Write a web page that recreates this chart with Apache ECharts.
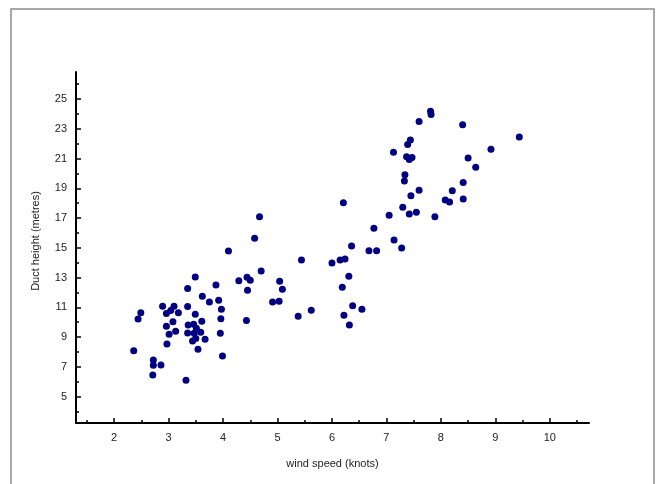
<!DOCTYPE html>
<html>
<head>
<meta charset="utf-8">
<script src="https://cdn.jsdelivr.net/npm/echarts@6/dist/echarts.min.js"></script>
<style>
  html, body { margin: 0; padding: 0; background: #fff; }
  #chart { width: 656px; height: 484px; }
</style>
</head>
<body>
<div id="chart"></div>
<script>
// Wind speed (knots) against evaporation duct height (metres), one entry per observation.
const windSpeed = [
  3.49, 3.35, 3.87, 3.62, 3.75, 3.92, 3.97, 3.96, 3.95, 3.99,
  2.49, 2.44, 2.89, 2.96, 3.04, 3.10, 3.18, 3.35, 3.08, 2.96,
  3.01, 3.13, 2.97, 3.49, 3.61, 3.36, 3.46, 3.51, 3.35, 3.47,
  3.59, 3.44, 3.50, 3.67, 3.54, 2.36, 2.72, 2.72, 2.86, 2.71,
  3.32,
  4.10, 4.29, 4.44, 4.50, 4.45, 4.43, 4.58, 4.67, 4.70, 4.91,
  5.03, 5.04, 5.09, 5.38, 5.44, 5.62,
  6.00, 6.15, 6.24, 6.21, 6.19, 6.31, 6.36, 6.22, 6.32, 6.38,
  6.55, 6.68, 6.82, 6.77, 7.05, 7.14, 7.28, 7.13, 7.30, 7.42,
  7.55, 7.45, 7.60, 7.89, 7.33, 7.34, 7.37, 7.42, 7.47, 7.39,
  7.44, 7.60, 7.81, 7.82, 8.40, 8.50, 8.64, 8.92, 9.44, 8.41,
  8.21, 8.08, 8.16, 8.41
];
const ductHeight = [
  13.04, 12.26, 12.50, 11.75, 11.36, 11.48, 10.87, 10.24, 9.26, 7.73,
  10.64, 10.22, 11.07, 10.58, 10.78, 11.07, 10.64, 11.05, 10.04, 9.73,
  9.19, 9.39, 8.54, 10.54, 10.07, 9.82, 9.86, 9.60, 9.28, 9.26,
  9.33, 8.74, 8.90, 8.86, 8.18, 8.09, 7.47, 7.11, 7.13, 6.46,
  6.10,
  14.79, 12.79, 13.02, 12.82, 12.15, 10.11, 15.64, 17.09, 13.44, 11.36,
  11.41, 12.75, 12.22, 10.40, 14.18, 10.80,
  13.98, 14.18, 14.25, 18.03, 12.35, 13.09, 15.12, 10.47, 9.82, 11.11,
  10.87, 14.81, 14.81, 16.31, 17.19, 15.53, 14.99, 21.42, 17.72, 17.27,
  17.39, 18.50, 18.87, 17.09, 19.49, 19.91, 21.12, 20.94, 21.07, 21.94,
  22.25, 23.49, 24.17, 23.95, 23.27, 21.04, 20.41, 21.62, 22.45, 19.38,
  18.84, 18.21, 18.08, 18.28
];

// Labelled ticks on each axis; unlabelled ticks fall halfway between them.
const xTickLabels = [2, 3, 4, 5, 6, 7, 8, 9, 10];
const yTickLabels = [5, 7, 9, 11, 13, 15, 17, 19, 21, 23, 25];

// Plot frame and the value range it covers.
const PLOT = { left: 76, top: 72, width: 513, height: 351 };
const X_RANGE = [1.3, 10.72];
const Y_RANGE = [3.23, 26.81];

const FONT = "'Liberation Sans', Arial, Helvetica, sans-serif";
const INK = '#000';
const TEXT = '#222';

const px = v => PLOT.left + (v - X_RANGE[0]) / (X_RANGE[1] - X_RANGE[0]) * PLOT.width;
const py = v => PLOT.top + (Y_RANGE[1] - v) / (Y_RANGE[1] - Y_RANGE[0]) * PLOT.height;

const xStep = xTickLabels[1] - xTickLabels[0];
const yStep = yTickLabels[1] - yTickLabels[0];
const xFirst = xTickLabels[0], xLast = xTickLabels[xTickLabels.length - 1];
const yFirst = yTickLabels[0], yLast = yTickLabels[yTickLabels.length - 1];
const xMinorFirst = xFirst - xStep / 2, xMinorLast = xLast + xStep / 2;
const yMinorFirst = yFirst - yStep / 2, yMinorLast = yLast + yStep / 2;

// Each tick ruler lives in its own grid, laid out so its scale lines up with the plot.
const grids = [
  { left: PLOT.left, top: PLOT.top, width: PLOT.width, height: PLOT.height },
  { left: px(xFirst), width: px(xLast) - px(xFirst), top: PLOT.top, height: PLOT.height },
  { left: px(xMinorFirst), width: px(xMinorLast) - px(xMinorFirst), top: PLOT.top, height: PLOT.height },
  { left: PLOT.left, width: PLOT.width, top: py(yLast), height: py(yFirst) - py(yLast) },
  { left: PLOT.left, width: PLOT.width, top: py(yMinorLast), height: py(yMinorFirst) - py(yMinorLast) }
].map(g => Object.assign({ outerBoundsMode: 'none', containLabel: false, show: false }, g));

const hidden = gi => ({ gridIndex: gi, type: 'value', show: false, min: 0, max: 1 });
const tickRuler = (gi, min, max, interval, len, labels) => ({
  gridIndex: gi, type: 'value', min, max, interval,
  axisLine: { show: false },
  splitLine: { show: false },
  axisTick: { show: true, inside: true, length: len, lineStyle: { color: INK, width: 1.5 } },
  axisLabel: labels
    ? { show: true, margin: 9, fontFamily: FONT, fontSize: 11, color: TEXT, showMinLabel: true, showMaxLabel: true }
    : { show: false }
});

const nameStyle = { fontFamily: FONT, fontSize: 11, color: TEXT };

const option = {
  animation: false,
  backgroundColor: '#fff',
  grid: grids,
  xAxis: [
    {
      gridIndex: 0, type: 'value', min: X_RANGE[0], max: X_RANGE[1],
      name: 'wind speed (knots)', nameLocation: 'middle', nameGap: 35, nameTextStyle: nameStyle,
      axisLine: { show: true, onZero: false, lineStyle: { color: INK, width: 2 } },
      axisTick: { show: false }, axisLabel: { show: false }, splitLine: { show: false }
    },
    tickRuler(1, xFirst, xLast, xStep, 5, true),
    tickRuler(2, xMinorFirst, xMinorLast, xStep / 2, 3, false),
    hidden(3),
    hidden(4)
  ],
  yAxis: [
    {
      gridIndex: 0, type: 'value', min: Y_RANGE[0], max: Y_RANGE[1],
      name: 'Duct height (metres)', nameLocation: 'middle', nameGap: 35,
      nameTextStyle: Object.assign({ padding: [0, 0, 0, 13] }, nameStyle),
      axisLine: { show: true, onZero: false, lineStyle: { color: INK, width: 2 } },
      axisTick: { show: false }, axisLabel: { show: false }, splitLine: { show: false }
    },
    hidden(1),
    hidden(2),
    tickRuler(3, yFirst, yLast, yStep, 5, true),
    tickRuler(4, yMinorFirst, yMinorLast, yStep / 2, 3, false)
  ],
  graphic: [
    {
      type: 'rect', silent: true, z: -1,
      shape: { x: 11, y: 9, width: 643, height: 490 },
      style: { fill: 'none', stroke: '#8c8c8c', lineWidth: 1.5 }
    }
  ],
  series: [
    {
      type: 'scatter', xAxisIndex: 0, yAxisIndex: 0,
      symbol: 'circle', symbolSize: 7,
      itemStyle: { color: '#000080', opacity: 1 },
      emphasis: { disabled: true },
      data: windSpeed.map((w, i) => [w, ductHeight[i]])
    }
  ]
};

const chart = echarts.init(document.getElementById('chart'), null, { renderer: 'canvas' });
chart.setOption(option);
</script>
</body>
</html>
